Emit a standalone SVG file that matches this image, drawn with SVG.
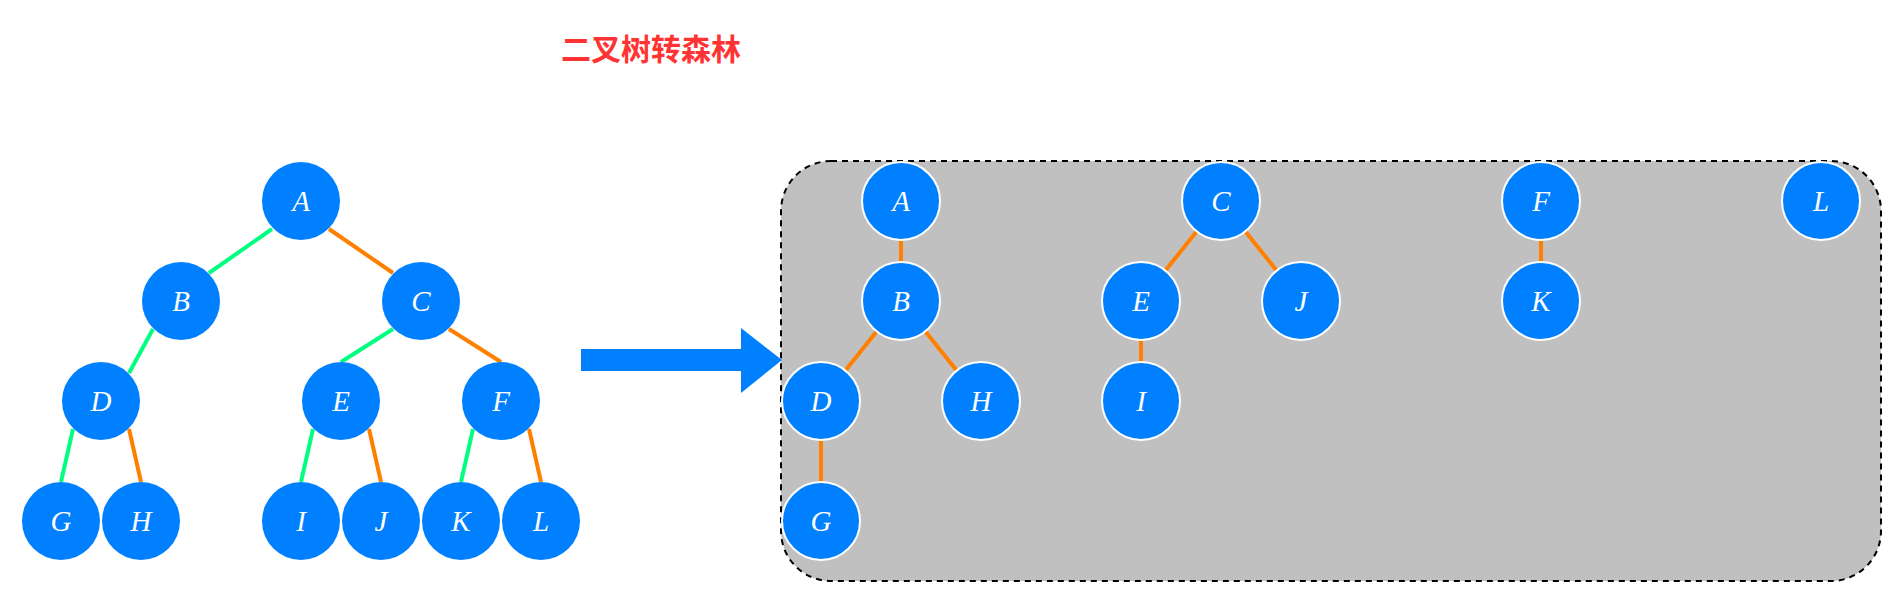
<svg xmlns="http://www.w3.org/2000/svg" width="1902" height="602" viewBox="0 0 1902 602">
<style>
.n{fill:#0080FF}
.r{fill:#0080FF;stroke:#FFFFFF;stroke-width:2}
.t{font-family:"Liberation Serif","DejaVu Serif",serif;font-style:italic;font-size:29px;fill:#FFFFFF;text-anchor:middle}
.g{stroke:#00FF80;stroke-width:4;fill:none}
.o{stroke:#FF8000;stroke-width:4;fill:none}
</style>
<rect width="1902" height="602" fill="#FFFFFF"/>
<text x="651" y="60" font-family="'Noto Sans CJK SC',sans-serif" font-weight="bold" font-size="30" fill="#FF3333" text-anchor="middle">二叉树转森林</text>
<g id="forest-box">
<rect x="781" y="161" width="1100" height="420" rx="50" ry="50" fill="#C0C0C0" stroke="#000000" stroke-width="2" stroke-dasharray="6 5"/>
</g>
<g id="arrow">
<rect x="581" y="349" width="161" height="22" fill="#0080FF"/>
<polygon points="741,328 782,360 741,393" fill="#0080FF"/>
</g>
<g id="connectors">
<line class="g" x1="272" y1="229" x2="209" y2="273"/>
<line class="o" x1="329" y1="229" x2="393" y2="273"/>
<line class="g" x1="153" y1="329" x2="129" y2="373"/>
<line class="g" x1="393" y1="329" x2="341" y2="362"/>
<line class="o" x1="449" y1="329" x2="501" y2="362"/>
<line class="g" x1="73" y1="429" x2="61" y2="482"/>
<line class="o" x1="129" y1="429" x2="141" y2="482"/>
<line class="g" x1="313" y1="429" x2="301" y2="482"/>
<line class="o" x1="369" y1="429" x2="381" y2="482"/>
<line class="g" x1="473" y1="429" x2="461" y2="482"/>
<line class="o" x1="529" y1="429" x2="541" y2="482"/>
<line class="o" x1="901" y1="201" x2="901" y2="301"/>
<line class="o" x1="901" y1="301" x2="821" y2="401"/>
<line class="o" x1="901" y1="301" x2="981" y2="401"/>
<line class="o" x1="821" y1="401" x2="821" y2="521"/>
<line class="o" x1="1221" y1="201" x2="1141" y2="301"/>
<line class="o" x1="1221" y1="201" x2="1301" y2="301"/>
<line class="o" x1="1141" y1="301" x2="1141" y2="401"/>
<line class="o" x1="1541" y1="201" x2="1541" y2="301"/>
</g>
<g id="bt-A"><circle class="n" cx="301" cy="201" r="39"/><text class="t" x="301" y="211">A</text></g>
<g id="bt-B"><circle class="n" cx="181" cy="301" r="39"/><text class="t" x="181" y="311">B</text></g>
<g id="bt-C"><circle class="n" cx="421" cy="301" r="39"/><text class="t" x="421" y="311">C</text></g>
<g id="bt-D"><circle class="n" cx="101" cy="401" r="39"/><text class="t" x="101" y="411">D</text></g>
<g id="bt-E"><circle class="n" cx="341" cy="401" r="39"/><text class="t" x="341" y="411">E</text></g>
<g id="bt-F"><circle class="n" cx="501" cy="401" r="39"/><text class="t" x="501" y="411">F</text></g>
<g id="bt-G"><circle class="n" cx="61" cy="521" r="39"/><text class="t" x="61" y="531">G</text></g>
<g id="bt-H"><circle class="n" cx="141" cy="521" r="39"/><text class="t" x="141" y="531">H</text></g>
<g id="bt-I"><circle class="n" cx="301" cy="521" r="39"/><text class="t" x="301" y="531">I</text></g>
<g id="bt-J"><circle class="n" cx="381" cy="521" r="39"/><text class="t" x="381" y="531">J</text></g>
<g id="bt-K"><circle class="n" cx="461" cy="521" r="39"/><text class="t" x="461" y="531">K</text></g>
<g id="bt-L"><circle class="n" cx="541" cy="521" r="39"/><text class="t" x="541" y="531">L</text></g>
<g id="f-A"><circle class="r" cx="901" cy="201" r="39"/><text class="t" x="901" y="211">A</text></g>
<g id="f-B"><circle class="r" cx="901" cy="301" r="39"/><text class="t" x="901" y="311">B</text></g>
<g id="f-D"><circle class="r" cx="821" cy="401" r="39"/><text class="t" x="821" y="411">D</text></g>
<g id="f-H"><circle class="r" cx="981" cy="401" r="39"/><text class="t" x="981" y="411">H</text></g>
<g id="f-G"><circle class="r" cx="821" cy="521" r="39"/><text class="t" x="821" y="531">G</text></g>
<g id="f-C"><circle class="r" cx="1221" cy="201" r="39"/><text class="t" x="1221" y="211">C</text></g>
<g id="f-E"><circle class="r" cx="1141" cy="301" r="39"/><text class="t" x="1141" y="311">E</text></g>
<g id="f-J"><circle class="r" cx="1301" cy="301" r="39"/><text class="t" x="1301" y="311">J</text></g>
<g id="f-I"><circle class="r" cx="1141" cy="401" r="39"/><text class="t" x="1141" y="411">I</text></g>
<g id="f-F"><circle class="r" cx="1541" cy="201" r="39"/><text class="t" x="1541" y="211">F</text></g>
<g id="f-K"><circle class="r" cx="1541" cy="301" r="39"/><text class="t" x="1541" y="311">K</text></g>
<g id="f-L"><circle class="r" cx="1821" cy="201" r="39"/><text class="t" x="1821" y="211">L</text></g>
</svg>
